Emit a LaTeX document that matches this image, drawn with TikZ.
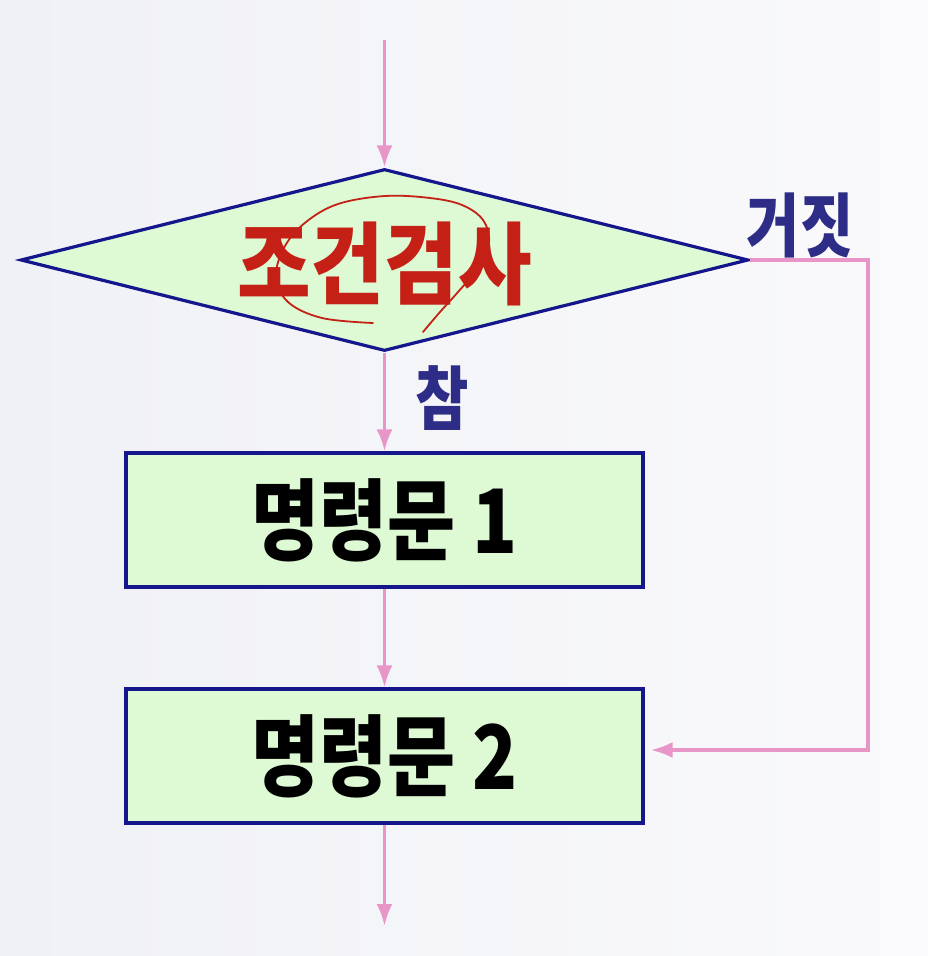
\documentclass[tikz,border=0pt]{standalone}
\usepackage{fontspec}
\usepackage{graphicx}
\newfontfamily\kr{Noto Sans CJK KR}
\usetikzlibrary{shapes.geometric,arrows.meta}
\definecolor{bgL}{RGB}{240,241,245}
\definecolor{bgR}{RGB}{250,250,252}
\definecolor{navy}{RGB}{22,22,140}
\definecolor{lblue}{RGB}{45,45,135}
\definecolor{boxfill}{RGB}{221,250,212}
\definecolor{flow}{RGB}{232,150,200}
\definecolor{redtxt}{RGB}{196,32,22}
\newcommand{\tallt}[1]{\scalebox{1}[1.2]{#1}}
\tikzset{
  decision/.style={diamond, draw=navy, line width=3.2pt, fill=boxfill, aspect=4,
    minimum width=728pt, minimum height=182pt, inner sep=0pt},
  stmt/.style={rectangle, draw=navy, line width=3.2pt, fill=boxfill,
    minimum width=517pt, minimum height=134pt, inner sep=0pt,
    font=\kr\bfseries\fontsize{74}{76}\selectfont, text=black},
  flowline/.style={draw=flow, line width=3.5pt, -{Latex[length=22pt,width=16pt]}},
  lbl/.style={font=\kr\bfseries\fontsize{58}{60}\selectfont, text=lblue, inner sep=0pt}
}
\begin{document}
\begin{tikzpicture}[x=1pt,y=-1pt]
\fill[left color=bgL, right color=bgR] (0,0) rectangle (928,956);
\useasboundingbox (0,0) rectangle (928,956);

\node[decision] (d) at (384.5,260) {};
\node[font=\kr\bfseries\fontsize{80}{82}\selectfont, text=redtxt, inner sep=0pt] (dt) at (384.5,264) {\scalebox{1}[1.12]{조건검사}};
\node[stmt] (b1) at (384.5,520) {\tallt{명령문 1}};
\node[stmt] (b2) at (384.5,756) {\tallt{명령문 2}};

\coordinate (start) at (384.5,40);
\coordinate (finish) at (384.5,926);
\coordinate (corner) at (868,260);

\node[lbl] (yes) at (442,398) {\tallt{참}};
\node[lbl] (no) at (800,225) {\tallt{거짓}};

\draw[flowline] (start) -- (d.north);
\draw[flowline] (d.south) -- (b1.north);
\draw[flowline] (b1.south) -- (b2.north);
\draw[flowline] (b2.south) -- (finish);
\draw[flowline] (d.east) -- (corner) |- ([xshift=6pt,yshift=6pt]b2.east);

% hand-drawn red annotation loop
\draw[redtxt, line width=1.8pt, line cap=round] plot[smooth, tension=0.6] coordinates {
 (373,323) (322,318) (288,302) (276,276) (285,246) (306,222) (338,204)
 (385,196) (430,198) (462,205) (483,220) (489,243) (478,268) (458,292) (440,312) (423,332)};
\end{tikzpicture}
\end{document}
